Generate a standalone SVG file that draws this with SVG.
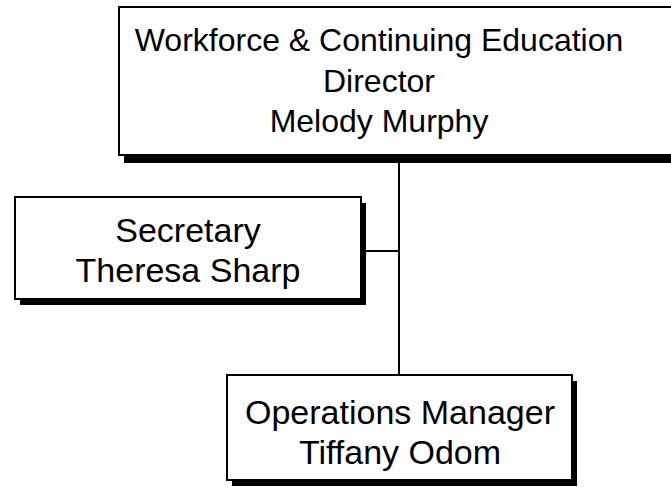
<svg xmlns="http://www.w3.org/2000/svg" width="671" height="487" viewBox="0 0 671 487">
<style>
.shadow{fill:#000}
.box{fill:#fff;stroke:#000;stroke-width:2}
.t{font-family:"Liberation Sans",Arial,sans-serif;font-size:32px;fill:#000;text-anchor:middle}
.s{font-size:34px}
.line{stroke:#000;stroke-width:2;fill:none}
</style>
<rect width="671" height="487" fill="#fff"/>
<g id="connectors">
<line class="line" x1="399" y1="160" x2="399" y2="376"/>
<line class="line" x1="362" y1="251" x2="399" y2="251"/>
</g>
<g id="director">
<rect class="shadow" x="124" y="13" width="560" height="150"/>
<rect class="box" x="119" y="7" width="560" height="148"/>
<text class="t" x="379" y="51">Workforce &amp; Continuing Education</text>
<text class="t" x="379" y="92">Director</text>
<text class="t" x="379" y="132">Melody Murphy</text>
</g>
<g id="secretary">
<rect class="shadow" x="20" y="203" width="346" height="102"/>
<rect class="box" x="15" y="197" width="346" height="102"/>
<text class="t s" x="188" y="242">Secretary</text>
<text class="t s" x="188" y="282">Theresa Sharp</text>
</g>
<g id="operations">
<rect class="shadow" x="232" y="381" width="345" height="105"/>
<rect class="box" x="227" y="375" width="345" height="105"/>
<text class="t s" x="400" y="424">Operations Manager</text>
<text class="t s" x="400" y="464">Tiffany Odom</text>
</g>
</svg>
